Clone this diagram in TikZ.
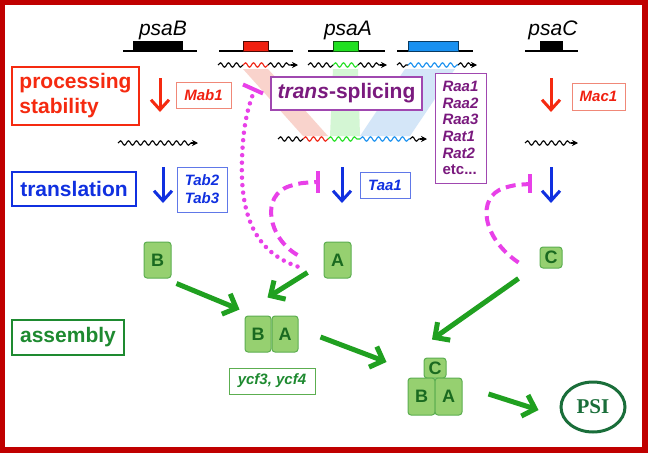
\documentclass[tikz,border=0pt]{standalone}
\usepackage{fontspec}
\setmainfont{Liberation Sans}
\newfontfamily\psifont{Liberation Serif}
\usetikzlibrary{arrows.meta,decorations.pathmorphing,shapes.geometric,positioning}

\definecolor{framered}{HTML}{C00000}
\definecolor{procred}{HTML}{F52A10}
\definecolor{mabline}{HTML}{F08878}
\definecolor{transblue}{HTML}{1030E0}
\definecolor{tabline}{HTML}{6078E8}
\definecolor{splpurple}{HTML}{7A1A7E}
\definecolor{splline}{HTML}{A048B0}
\definecolor{inhib}{HTML}{E840E8}
\definecolor{asmgreen}{HTML}{1E8A30}
\definecolor{arrgreen}{HTML}{20A020}
\definecolor{protfill}{HTML}{96D070}
\definecolor{protline}{HTML}{5CAE50}
\definecolor{prottext}{HTML}{1A6A20}
\definecolor{psigreen}{HTML}{1A6E3A}
\definecolor{exonred}{HTML}{F02010}
\definecolor{exongreen}{HTML}{20E020}
\definecolor{exonblue}{HTML}{1890F0}
\definecolor{bandred}{HTML}{F9D3CC}
\definecolor{bandgreen}{HTML}{D4F6D4}
\definecolor{bandblue}{HTML}{D4E6F8}

\begin{document}
\begin{tikzpicture}[x=1pt,y=-1pt,
  catbox/.style={draw, line width=1.6pt, fill=white, inner sep=0pt, align=left,
    font=\bfseries\fontsize{21}{25}\selectfont},
  factbox/.style={draw, line width=1pt, fill=white, inner sep=0pt, align=left,
    font=\bfseries\itshape\fontsize{15}{18}\selectfont},
  prot/.style={draw=protline, fill=protfill, rounded corners=3pt, line width=1pt,
    inner sep=0pt, text=prottext, font=\bfseries\fontsize{18}{18}\selectfont,
    minimum width=27pt, minimum height=36pt},
  smallprot/.style={prot, minimum width=22pt, minimum height=21pt},
  genelabel/.style={font=\itshape\fontsize{21}{21}\selectfont},
  mrna/.style={decorate, decoration={snake, segment length=8pt, amplitude=2.2pt}, line width=1.1pt},
  mrnatip/.style={line width=1.1pt, -{Stealth[length=6pt,width=6pt]}},
  downarrow/.style={line width=3pt, -{Straight Barb[length=10pt,width=18pt]}},
  grnarrow/.style={arrgreen, line width=5pt, -{Straight Barb[length=11pt,width=22pt]}},
  inhibit/.style={inhib, line width=4pt},
  inhibbar/.style={inhib, line width=4pt}
]
  \useasboundingbox (0,0) rectangle (648,453);

  % Frame
  \fill[framered] (0,0) rectangle (648,453);
  \fill[white] (5,5) rectangle (642,447);

  % Genes
  \node[genelabel] (geneB) at (163,30) {psaB};
  \node[genelabel] (geneA) at (348,30) {psaA};
  \node[genelabel] (geneC) at (553,30) {psaC};
  \draw[line width=1.5pt] (123,51) -- (197,51);
  \fill[black] (133,41) rectangle (183,51);
  \draw[line width=1.5pt] (219,51) -- (293,51);
  \filldraw[fill=exonred, draw=black!70!exonred] (243,41) rectangle (268,51);
  \draw[line width=1.5pt] (308,51) -- (385,51);
  \filldraw[fill=exongreen, draw=black!60!exongreen] (333,41) rectangle (358,51);
  \draw[line width=1.5pt] (397,51) -- (473,51);
  \filldraw[fill=exonblue, draw=black!60!exonblue] (408,41) rectangle (458,51);
  \draw[line width=1.5pt] (525,51) -- (578,51);
  \fill[black] (540,41) rectangle (563,51);

  % Bands from the exons to the spliced mRNA
  \fill[bandred] (243,69) -- (268,69) -- (328,136) -- (303,136) -- cycle;
  \fill[bandgreen] (333,69) -- (358,69) -- (360,136) -- (330,136) -- cycle;
  \fill[bandblue] (405,69) -- (455,69) -- (410,136) -- (360,136) -- cycle;

  % Precursor mRNAs
  \foreach \xa/\xb/\xc/\xd/\col in {218/243/268/298/exonred, 308/333/358/387/exongreen, 397/408/458/477/exonblue}{
    \draw[mrna] (\xa,65) -- (\xb,65);
    \draw[mrna, \col] (\xb,65) -- (\xc,65);
    \draw[mrna] (\xc,65) -- (\xd-6,65);
    \draw[mrnatip] (\xd-7,65) -- (\xd,65);
  }

  % Mature mRNAs
  \draw[mrna] (118,143) -- (192,143);
  \draw[mrnatip] (191,143) -- (198,143);
  \draw[mrna] (525,143) -- (572,143);
  \draw[mrnatip] (571,143) -- (578,143);
  \draw[mrna] (278,139) -- (303,139);
  \draw[mrna, exonred] (303,139) -- (328,139);
  \draw[mrna, exongreen] (328,139) -- (360,139);
  \draw[mrna, exonblue] (360,139) -- (410,139);
  \draw[mrna] (410,139) -- (421,139);
  \draw[mrnatip] (420,139) -- (427,139);

  % Categories
  \node[catbox, draw=procred, text=procred, minimum width=127pt, minimum height=58pt] (proc) at (75.5,96) {processing\\stability};
  \node[catbox, draw=transblue, text=transblue, minimum width=124pt, minimum height=34pt] (transl) at (74,189) {translation};
  \node[catbox, draw=asmgreen, text=asmgreen, minimum width=112pt, minimum height=35pt] (asm) at (68,337.5) {assembly};
  \node[catbox, draw=splline, text=splpurple, minimum width=151pt, minimum height=33pt] (splice) at (346.5,93.5) {\textit{trans}-splicing};

  % Factors
  \node[factbox, draw=mabline, text=exonred, minimum width=55pt, minimum height=26pt] (mab) at (203.5,95) {Mab1};
  \node[factbox, draw=mabline, text=exonred, minimum width=53pt, minimum height=27pt] (mac) at (598.5,96.5) {Mac1};
  \node[factbox, draw=tabline, text=transblue, minimum width=50pt, minimum height=45pt] (tab) at (202,189.5) {Tab2\\Tab3};
  \node[factbox, draw=tabline, text=transblue, minimum width=50pt, minimum height=26pt] (taa) at (385,185) {Taa1};
  \node[factbox, draw=splline, text=splpurple, minimum width=51pt, minimum height=110pt,
    font=\bfseries\itshape\fontsize{15}{16.7}\selectfont] (raa) at (460.5,128) {Raa1\\Raa2\\Raa3\\Rat1\\Rat2\\{\upshape etc...}};
  \node[factbox, draw=protline, text=asmgreen, minimum width=86pt, minimum height=26pt] (ycf) at (272,381) {ycf3, ycf4};

  % Processing and translation steps
  \coordinate (stB1) at (160,78);  \coordinate (enB1) at (160,112);
  \coordinate (stC1) at (551,78);  \coordinate (enC1) at (551,112);
  \coordinate (stB2) at (163,167); \coordinate (enB2) at (163,203);
  \coordinate (stA2) at (342,167); \coordinate (enA2) at (342,203);
  \coordinate (stC2) at (551,167); \coordinate (enC2) at (551,203);
  \draw[downarrow, procred] (stB1) -- (enB1);
  \draw[downarrow, procred] (stC1) -- (enC1);
  \draw[downarrow, transblue] (stB2) -- (enB2);
  \draw[downarrow, transblue] (stA2) -- (enA2);
  \draw[downarrow, transblue] (stC2) -- (enC2);

  % Subunits
  \node[prot] (pB) at (157.5,260) {B};
  \node[prot] (pA) at (337.5,260) {A};
  \node[smallprot] (pC) at (551,257.5) {C};
  \node[prot, minimum width=26pt] (baB) at (258,334) {B};
  \node[prot, minimum width=26pt] (baA) at (285,334) {A};
  \node[smallprot, minimum height=20pt] (cbaC) at (435,368) {C};
  \node[prot, minimum height=37pt] (cbaB) at (421.5,396.5) {B};
  \node[prot, minimum height=37pt] (cbaA) at (448.5,396.5) {A};
  \node[ellipse, draw=psigreen, line width=3pt, minimum width=64pt, minimum height=50pt,
    text=psigreen, font=\psifont\bfseries\fontsize{21}{21}\selectfont] (psi) at (593,407) {PSI};

  % Feedback control
  \coordinate (fbSplice) at (253,89);
  \coordinate (fbTaa) at (318,182);
  \coordinate (fbC) at (530,184);
  \draw[inhibit, line width=4.5pt, line cap=round, dash pattern=on 0pt off 7.5pt]
    ([shift={(-26,-12)}]pA.south west) .. controls (255,252) and (240,215) .. (242,160)
    .. controls (243,125) and (248,108) .. ([shift={(0,5)}]fbSplice);
  \draw[inhibbar] ([shift={(-10,-4.5)}]fbSplice) -- ([shift={(10,4.5)}]fbSplice);
  \draw[inhibit, dash pattern=on 10pt off 6pt]
    ([shift={(-26,-5)}]pA.west) .. controls (268,238) and (260,195) .. (290,186)
    .. controls (300,183) .. (fbTaa);
  \draw[inhibbar] ([shift={(0,-11)}]fbTaa) -- ([shift={(0,11)}]fbTaa);
  \draw[inhibit, dash pattern=on 10pt off 6pt]
    ([shift={(-21,-6)}]pC.south west) .. controls (482,238) and (476,197) .. (504,188)
    .. controls (514,185) .. (fbC);
  \draw[inhibbar] ([shift={(0,-10)}]fbC) -- ([shift={(0,9)}]fbC);

  % Assembly
  \draw[grnarrow] ([shift={(5,5)}]pB.south east) -- ([shift={(-5,-6)}]baB.north west);
  \draw[grnarrow] ([shift={(-16,-6)}]pA.south west) -- ([shift={(-4,-18)}]baB.north east);
  \draw[grnarrow] ([shift={(22,3)}]baA.east) -- ([shift={(-37,-6)}]cbaC.west);
  \draw[grnarrow] ([shift={(-21,10)}]pC.south west) -- ([shift={(-3,-18)}]cbaC.north);
  \draw[grnarrow] ([shift={(26,-2.5)}]cbaA.east) -- ([shift={(-21,3)}]psi.west);
\end{tikzpicture}
\end{document}
